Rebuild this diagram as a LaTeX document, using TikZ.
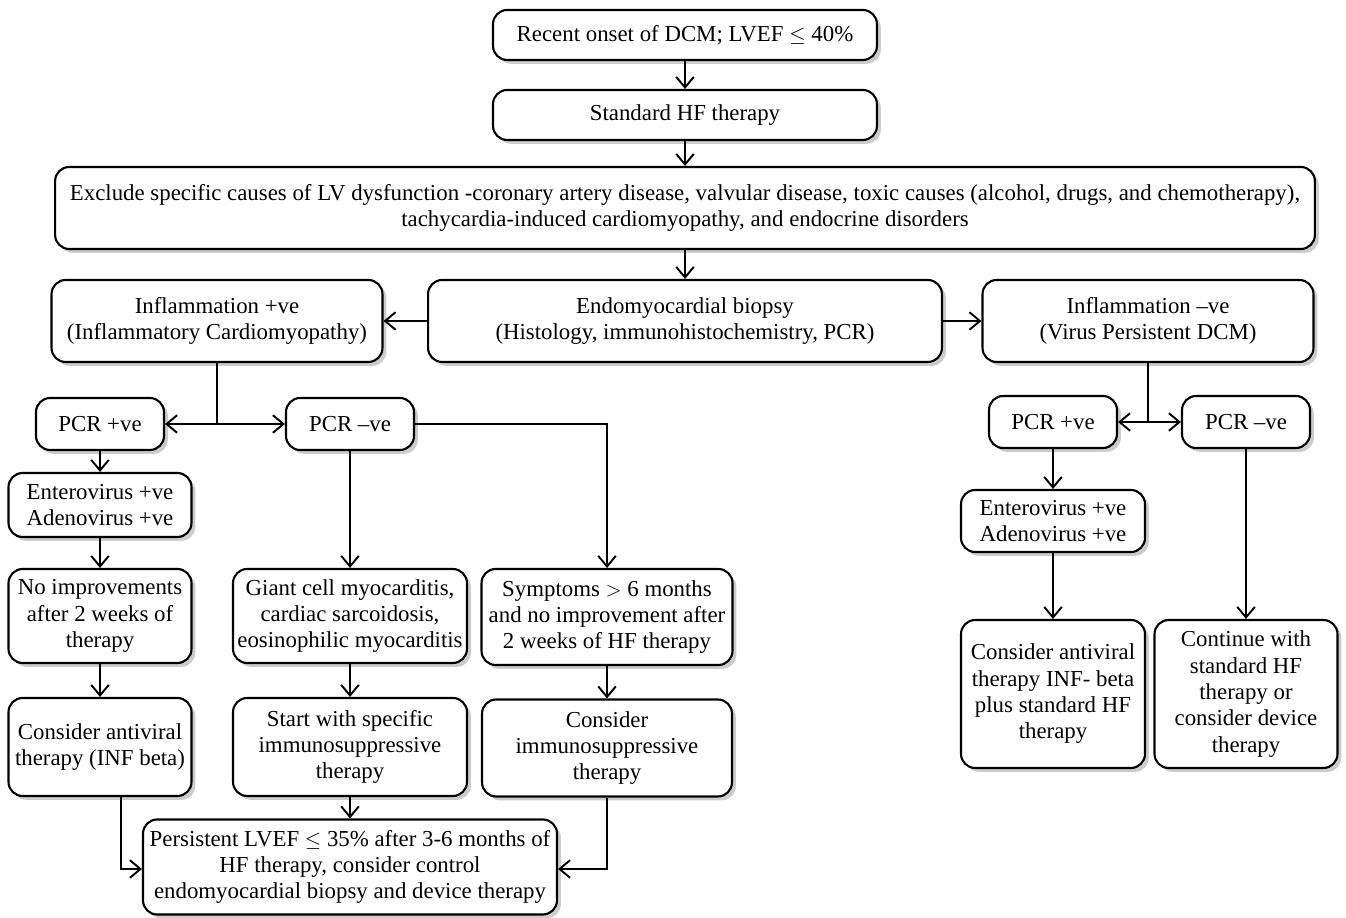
\documentclass[tikz,border=0pt]{standalone}
\usepackage{fontspec}
\setmainfont{Liberation Serif}
\usetikzlibrary{arrows.meta,shadows}
\begin{document}
\begin{tikzpicture}[x=0.02cm,y=-0.02cm,
  box/.style={draw=black, line width=1.2pt, rounded corners=8pt, fill=white,
    align=center, inner sep=2pt, font=\fontsize{13}{15}\selectfont,
    drop shadow={opacity=0.4, shadow xshift=2.2pt, shadow yshift=-2.2pt}},
  arr/.style={line width=1.1pt, -{Straight Barb[length=6pt,width=10pt,line width=1.1pt]}},
  ln/.style={line width=1.1pt}]
\useasboundingbox (0,0) rectangle (1346,918);

\node[box, minimum width=7.68cm, minimum height=1.0cm] (top) at (685,35) {Recent onset of DCM; LVEF $\leq$ 40\%};
\node[box, minimum width=7.68cm, minimum height=1.0cm] (std) at (685,115) {Standard HF therapy};
\node[box, minimum width=25.2cm, minimum height=1.64cm] (excl) at (685,208) {Exclude specific causes of LV dysfunction -coronary artery disease, valvular disease, toxic causes (alcohol, drugs, and chemotherapy),\\ tachycardia-induced cardiomyopathy, and endocrine disorders};
\node[box, minimum width=10.28cm, minimum height=1.64cm] (bio) at (685,321) {Endomyocardial biopsy\\(Histology, immunohistochemistry, PCR)};
\node[box, minimum width=6.62cm, minimum height=1.64cm] (ipos) at (217,321) {Inflammation +ve\\(Inflammatory Cardiomyopathy)};
\node[box, minimum width=6.62cm, minimum height=1.64cm] (ineg) at (1148,321) {Inflammation –ve\\(Virus Persistent DCM)};

\node[box, minimum width=2.56cm, minimum height=1.04cm] (pcrpL) at (100,424) {PCR +ve};
\node[box, minimum width=2.56cm, minimum height=1.04cm] (pcrnL) at (350,424) {PCR –ve};
\node[box, minimum width=3.66cm, minimum height=1.28cm] (entL) at (100,505) {Enterovirus +ve\\Adenovirus +ve};
\node[box, minimum width=3.66cm, minimum height=1.88cm] (noimp) at (100,616) {No improvements\\after 2 weeks of\\therapy};
\node[box, minimum width=4.68cm, minimum height=1.88cm] (giant) at (350,616) {Giant cell myocarditis,\\cardiac sarcoidosis,\\eosinophilic myocarditis};
\node[box, minimum width=5.02cm, minimum height=1.92cm] (sympt) at (607,617) {Symptoms $>$ 6 months\\and no improvement after\\2 weeks of HF therapy};
\node[box, minimum width=3.66cm, minimum height=1.96cm] (antiv) at (100,747) {Consider antiviral\\therapy (INF beta)};
\node[box, minimum width=4.68cm, minimum height=1.96cm] (start) at (350,747) {Start with specific\\immunosuppressive\\therapy};
\node[box, minimum width=5.0cm, minimum height=1.94cm] (consi) at (607,748) {Consider\\immunosuppressive\\therapy};
\node[box, minimum width=8.28cm, minimum height=1.9cm] (pers) at (350,867) {Persistent LVEF $\leq$ 35\% after 3-6 months of\\HF therapy, consider control\\endomyocardial biopsy and device therapy};

\node[box, minimum width=2.56cm, minimum height=1.04cm] (pcrpR) at (1053,422) {PCR +ve};
\node[box, minimum width=2.56cm, minimum height=1.04cm] (pcrnR) at (1246,422) {PCR –ve};
\node[box, minimum width=3.68cm, minimum height=1.24cm] (entR) at (1053,521) {Enterovirus +ve\\Adenovirus +ve};
\node[box, minimum width=3.68cm, minimum height=2.96cm] (antR) at (1053,694) {Consider antiviral\\therapy INF- beta\\plus standard HF\\therapy};
\node[box, minimum width=3.66cm, minimum height=2.96cm] (cont) at (1246,694) {Continue with\\standard HF\\therapy or\\consider device\\therapy};

\coordinate (jL) at (217,424);
\coordinate (jR) at (1148,422);

\draw[arr] (top) -- (std);
\draw[arr] (std) -- (excl);
\draw[arr] (excl) -- (bio);
\draw[arr] (bio) -- (ipos);
\draw[arr] (bio) -- (ineg);

\draw[ln] (ipos.south -| jL) -- (jL);
\draw[arr] (jL) -- (pcrpL);
\draw[arr] (jL) -- (pcrnL);
\draw[arr] (pcrpL) -- (entL);
\draw[arr] (entL) -- (noimp);
\draw[arr] (noimp) -- (antiv);
\draw[arr] (pcrnL) -- (giant);
\draw[arr] (pcrnL.east) -| (sympt.north);
\draw[arr] (giant) -- (start);
\draw[arr] (sympt) -- (consi);
\draw[arr] (start) -- (pers);
\draw[arr] (antiv.south -| 121,0) |- (pers.west |- 0,869);
\draw[arr] (consi.south) |- (pers.east |- 0,869);

\draw[ln] (ineg.south -| jR) -- (jR);
\draw[arr] (jR) -- (pcrpR);
\draw[arr] (jR) -- (pcrnR);
\draw[arr] (pcrpR) -- (entR);
\draw[arr] (entR) -- (antR);
\draw[arr] (pcrnR) -- (cont);
\end{tikzpicture}
\end{document}
